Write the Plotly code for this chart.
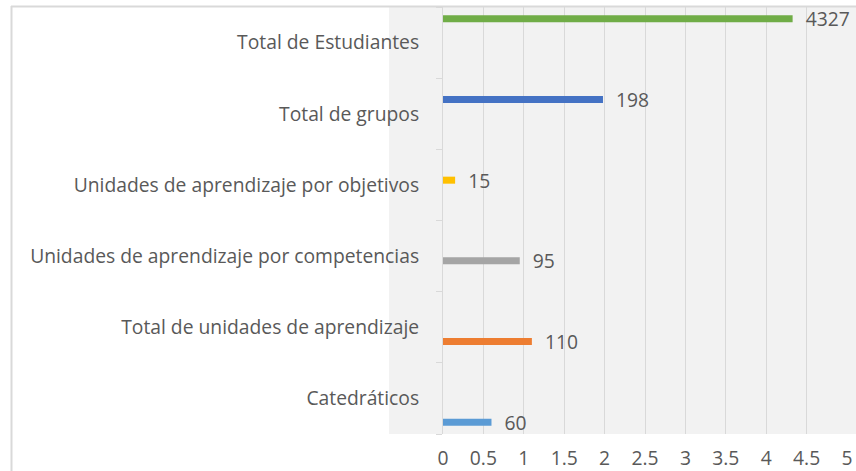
import plotly.graph_objects as go

categories = [
    "Catedráticos",
    "Total de unidades de aprendizaje",
    "Unidades de aprendizaje por competencias",
    "Unidades de aprendizaje por objetivos",
    "Total de grupos",
    "Total de Estudiantes",
]
label_values = [60, 110, 95, 15, 198, 4327]
bar_lengths = [0.6, 1.1, 0.95, 0.15, 1.98, 4.327]
colors = ["#5B9BD5", "#ED7D31", "#A5A5A5", "#FFC000", "#4472C4", "#70AD47"]
x_ticks = [0, 0.5, 1, 1.5, 2, 2.5, 3, 3.5, 4, 4.5, 5]
x_tick_labels = ["0", "0.5", "1", "1.5", "2", "2.5", "3", "3.5", "4", "4.5", "5"]

W, H = 856, 471
L, R, T, B = 443, 9, 7, 37
pw = W - L - R
ph = H - T - B


def px_x(p):
    return (p - L) / pw


def px_y(p):
    return (H - B - p) / ph


FONT = "Open Sans"
FS = 19.3
TXT = "#595959"
GRID = "#D9D9D9"

fig = go.Figure()
for i, cat in enumerate(categories):
    xs = [bar_lengths[i] if j == i else None for j in range(len(categories))]
    ts = ["\u00a0\u00a0" + str(label_values[i]) if j == i else "" for j in range(len(categories))]
    fig.add_trace(go.Bar(
        y=categories, x=xs, orientation="h",
        marker=dict(color=colors[i], line=dict(width=0)),
        text=ts, textposition="outside", constraintext="none",
        textfont=dict(family=FONT, size=FS, color=TXT),
        cliponaxis=False, showlegend=False, hoverinfo="skip",
    ))

fig.update_layout(
    template="none",
    width=W, height=H,
    margin=dict(l=L, r=R, t=T, b=B, pad=0, autoexpand=False),
    barmode="group", bargap=0.2, bargroupgap=0.26,
    paper_bgcolor="white", plot_bgcolor="#F2F2F2",
    font=dict(family=FONT, size=FS, color=TXT),
    shapes=[
        dict(type="rect", xref="paper", yref="paper",
             x0=px_x(389), x1=px_x(856), y0=0, y1=1,
             fillcolor="#F2F2F2", line=dict(width=0), layer="below"),
        dict(type="line", xref="paper", yref="paper",
             x0=px_x(11), x1=px_x(860), y0=px_y(6.5), y1=px_y(6.5),
             line=dict(color=GRID, width=2), layer="above"),
        dict(type="line", xref="paper", yref="paper",
             x0=px_x(11.5), x1=px_x(11.5), y0=px_y(6), y1=px_y(475),
             line=dict(color=GRID, width=2), layer="above"),
    ],
)
fig.update_xaxes(
    range=[0, 5], tickvals=x_ticks, ticktext=x_tick_labels,
    showgrid=True, gridcolor=GRID, gridwidth=1, zeroline=False,
    showline=False, ticks="", ticklabelstandoff=11, automargin=False,
    tickfont=dict(family=FONT, size=FS, color=TXT),
)
fig.update_yaxes(
    categoryorder="array", categoryarray=categories,
    showline=True, linecolor=GRID, linewidth=1,
    ticks="outside", tickson="boundaries", ticklen=6, tickcolor=GRID,
    ticklabelstandoff=19, showgrid=False, automargin=False,
    tickfont=dict(family=FONT, size=FS, color=TXT),
)

fig.write_html(
    "out.html",
    config={"displayModeBar": False, "staticPlot": True},
    post_script="document.body.style.margin='0px';document.body.style.overflow='hidden';",
)
